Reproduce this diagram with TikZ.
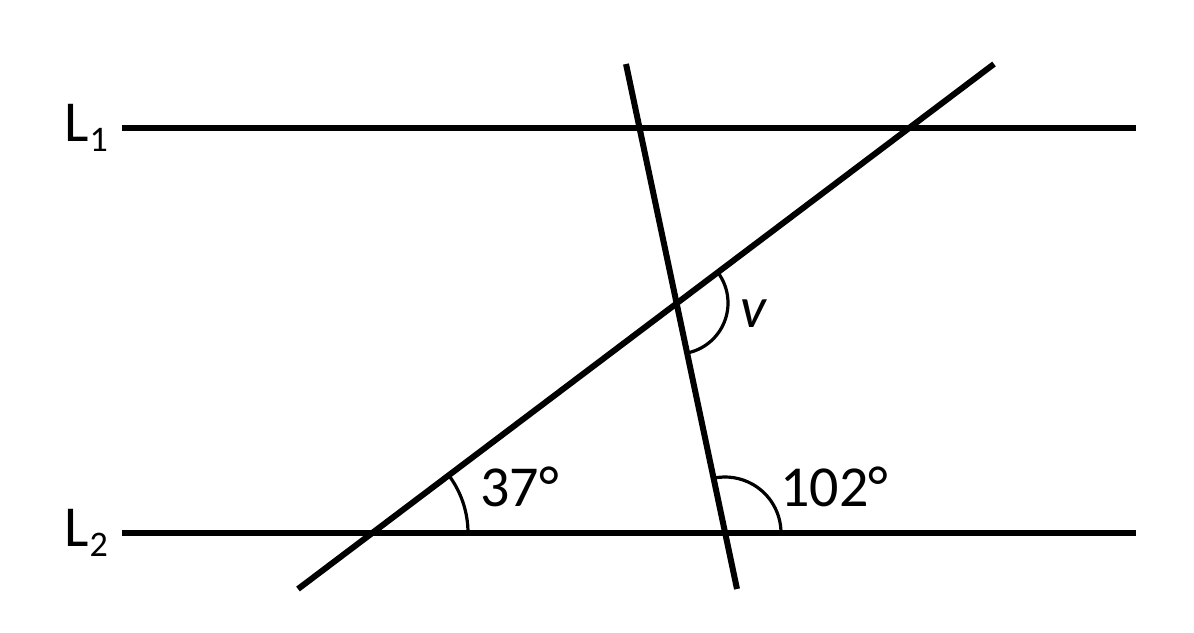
\documentclass[tikz,border=0pt]{standalone}
\usepackage{fontspec}
\setmainfont{Carlito}
\newcommand{\mysub}[1]{\raisebox{-10pt}{\fontsize{36}{36}\selectfont #1}}
\begin{document}
\begin{tikzpicture}[x=1pt,y=1pt,
  mainline/.style={line width=6pt},
  anglearc/.style={line width=3.2pt},
  lbl/.style={inner sep=0pt,anchor=base west,font=\fontsize{58}{60}\selectfont}]
\useasboundingbox (0,0) rectangle (1194,632);
% line endpoints
\coordinate (L1a) at (122,504);
\coordinate (L1b) at (1136,504);
\coordinate (L2a) at (122,99);
\coordinate (L2b) at (1136,99);
\coordinate (Da) at (298,43);
\coordinate (Db) at (994,568);
\coordinate (Sa) at (626,568);
\coordinate (Sb) at (737,43);
\coordinate (P) at (372,99);
\coordinate (Q) at (725,99);
\coordinate (V) at (677,329);
% lines
\draw[mainline] (L1a) -- (L1b);
\draw[mainline] (L2a) -- (L2b);
\draw[mainline] (Da) -- (Db);
\draw[mainline] (Sa) -- (Sb);
% angle arcs
\draw[anglearc] (P) ++(0:96) arc[start angle=0,end angle=37,radius=96];
\draw[anglearc] (Q) ++(0:56) arc[start angle=0,end angle=102,radius=56];
\draw[anglearc] (V) ++(-78:51) arc[start angle=-78,end angle=37,radius=51];
% labels
\node[lbl] (l1) at (64,490) {L\kern1pt\mysub{1}};
\node[lbl] (l2) at (64,85) {L\kern1pt\mysub{2}};
\node[lbl] (a37) at (480,125) {37°};
\node[lbl] (a102) at (780,125) {102°};
\node[lbl] (av) at (740,304) {\textit{v}};
\end{tikzpicture}
\end{document}
